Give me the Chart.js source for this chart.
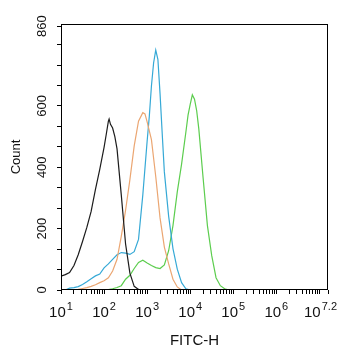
<!DOCTYPE html>
<html>
<head>
<meta charset="utf-8">
<script src="https://cdn.jsdelivr.net/npm/chart.js@4/dist/chart.umd.min.js"></script>
<style>
  html, body { margin: 0; padding: 0; background: #ffffff; }
  #wrap { width: 343px; height: 350px; position: relative; }
</style>
</head>
<body>
<div id="wrap"><canvas id="c" width="343" height="350"></canvas></div>
<script>
// ---- Data (FITC-H value, Count) ----
const blackFitc  = [10, 12.6, 15.8, 20, 25.1, 31.6, 39.8, 50.1, 63.1, 79.4, 100, 112, 126, 131, 141, 158, 178, 200, 251, 316, 398, 501, 631, 708];
const blackCount = [45, 50, 57, 80, 115, 158, 204, 256, 328, 393, 465, 506, 550, 557, 540, 528, 500, 460, 310, 150, 55, 12, 2, 0];

const orangeFitc  = [20, 25.1, 31.6, 39.8, 50.1, 63.1, 79.4, 100, 126, 158, 200, 251, 316, 398, 501, 631, 794, 891, 1000, 1259, 1585, 1995, 2512, 3162, 3981, 5012, 6310];
const orangeCount = [0, 2, 5, 8, 12, 17, 24, 30, 40, 62, 100, 175, 260, 360, 470, 550, 578, 574, 548, 490, 370, 235, 140, 85, 35, 10, 0];

const blueFitc  = [12.6, 15.8, 20, 25.1, 31.6, 39.8, 50.1, 63.1, 79.4, 100, 126, 158, 200, 251, 316, 398, 501, 631, 794, 1000, 1122, 1259, 1413, 1585, 1778, 1995, 2239, 2512, 3162, 3981, 5012, 6310, 7943, 10000];
const blueCount = [0, 6, 8, 11, 18, 27, 37, 46, 52, 72, 85, 100, 115, 122, 120, 116, 125, 165, 310, 485, 565, 665, 740, 782, 752, 640, 510, 385, 240, 135, 68, 24, 4, 0];

const greenFitc  = [112, 126, 158, 200, 251, 316, 398, 501, 631, 794, 1000, 1259, 1585, 1995, 2512, 3162, 3981, 5012, 6310, 7943, 8913, 10000, 11220, 12589, 14125, 15849, 19953, 25119, 31623, 39811, 50119, 63096, 79433];
const greenCount = [0, 1, 4, 8, 14, 35, 48, 70, 90, 97, 88, 80, 73, 70, 82, 128, 210, 320, 410, 515, 570, 605, 636, 622, 585, 525, 365, 210, 112, 40, 14, 4, 0];

// ---- Axes ----
const xMin = 10;
const xMax = 15848932;                 // 10^7.2
const xMajorTicks  = [10, 100, 1000, 10000, 100000, 1000000, 10000000, 15848932];
const xLabelValues = [10, 100, 1000, 10000, 100000, 1000000, 15848932];
const xLabelExps   = ['1', '2', '3', '4', '5', '6', '7.2'];   // exponents of 10
const xMinorMultipliers = [2, 3, 4, 5, 6, 7, 8, 9];

const yMax = 867;
const yMajorTicks  = [0, 200, 400, 600, 860];
const yMinorTicks  = [66.7, 133.3, 266.7, 333.3, 466.7, 533.3, 666.7, 733.3, 800];

const xTitle = 'FITC-H';
const yTitle = 'Count';

const FONT = '"Liberation Sans", Arial, Helvetica, sans-serif';

function pts(xs, ys) { return xs.map((x, i) => ({ x: x, y: ys[i] })); }

const frame = {
  id: 'frame',
  afterDraw(chart) {
    const ctx = chart.ctx;
    const a = chart.chartArea;
    ctx.save();
    ctx.strokeStyle = '#000';
    ctx.lineWidth = 1;
    const l = Math.round(a.left) + 0.5, t = Math.round(a.top) + 0.5;
    const r = Math.round(a.right) - 0.5, b = Math.round(a.bottom) - 0.5;
    ctx.strokeRect(l, t, r - l, b - t);
    // x tick labels: 10 with superscript exponent
    const xs = chart.scales.x;
    ctx.fillStyle = '#111';
    ctx.textBaseline = 'alphabetic';
    xLabelValues.forEach((v, i) => {
      const px = xs.getPixelForValue(v);
      ctx.font = '15px ' + FONT;
      const wBase = ctx.measureText('10').width;
      ctx.font = '11px ' + FONT;
      const wExp = ctx.measureText(xLabelExps[i]).width;
      const total = wBase + 1 + wExp;
      let start = px - total / 2;
      if (start + total > 337) start = 337 - total;
      ctx.font = '15px ' + FONT;
      ctx.fillText('10', start, 317);
      ctx.font = '11px ' + FONT;
      ctx.fillText(xLabelExps[i], start + wBase + 1, 310);
    });
    ctx.restore();
  }
};

new Chart(document.getElementById('c'), {
  type: 'scatter',
  data: {
    datasets: [
      { label: 'black',  data: pts(blackFitc, blackCount),   borderColor: '#1c1c1c' },
      { label: 'orange', data: pts(orangeFitc, orangeCount), borderColor: '#eba672' },
      { label: 'blue',   data: pts(blueFitc, blueCount),     borderColor: '#36a9d6' },
      { label: 'green',  data: pts(greenFitc, greenCount),   borderColor: '#5ccd4e' }
    ].map(d => Object.assign(d, { showLine: true, pointRadius: 0, borderWidth: 1.2, fill: false, tension: 0 }))
  },
  options: {
    responsive: false,
    animation: false,
    devicePixelRatio: 1,
    layout: { padding: { top: 24, right: 15, left: 0, bottom: 0 } },
    plugins: { legend: { display: false }, tooltip: { enabled: false } },
    scales: {
      x: {
        type: 'logarithmic',
        min: xMin,
        max: xMax,
        afterFit(s) { s.height = 60; },
        afterBuildTicks(s) {
          const t = xMajorTicks.map(v => ({ value: v }));
          for (let p = 10; p < xMax; p *= 10) {
            xMinorMultipliers.forEach(m => { if (m * p < xMax) t.push({ value: m * p }); });
          }
          t.sort((a, b) => a.value - b.value);
          s.ticks = t;
        },
        ticks: { autoSkip: false, callback: () => '', maxRotation: 0 },
        grid: {
          drawOnChartArea: false, drawTicks: true, tickLength: 4,
          color: '#000', tickWidth: 1
        },
        border: { display: false },
        title: {
          display: true, text: xTitle, color: '#111',
          font: { family: FONT, size: 15 }, padding: { top: 0, bottom: 0 }
        }
      },
      y: {
        type: 'linear',
        min: 0,
        max: yMax,
        afterFit(s) { s.width = 61; },
        afterBuildTicks(s) {
          const t = yMajorTicks.concat(yMinorTicks).sort((a, b) => a - b);
          s.ticks = t.map(v => ({ value: v }));
        },
        ticks: {
          autoSkip: false,
          minRotation: 90, maxRotation: 90,
          crossAlign: 'center',
          padding: 4,
          color: '#111',
          font: { family: FONT, size: 13 },
          callback: (v) => yMajorTicks.includes(v) ? String(v) : ''
        },
        grid: {
          drawOnChartArea: false, drawTicks: true, tickLength: 4,
          color: '#000', tickWidth: 1
        },
        border: { display: false },
        title: {
          display: true, text: yTitle, color: '#111',
          font: { family: FONT, size: 13 }, padding: { top: 9, bottom: 0 }
        }
      }
    }
  },
  plugins: [frame]
});
</script>
</body>
</html>
